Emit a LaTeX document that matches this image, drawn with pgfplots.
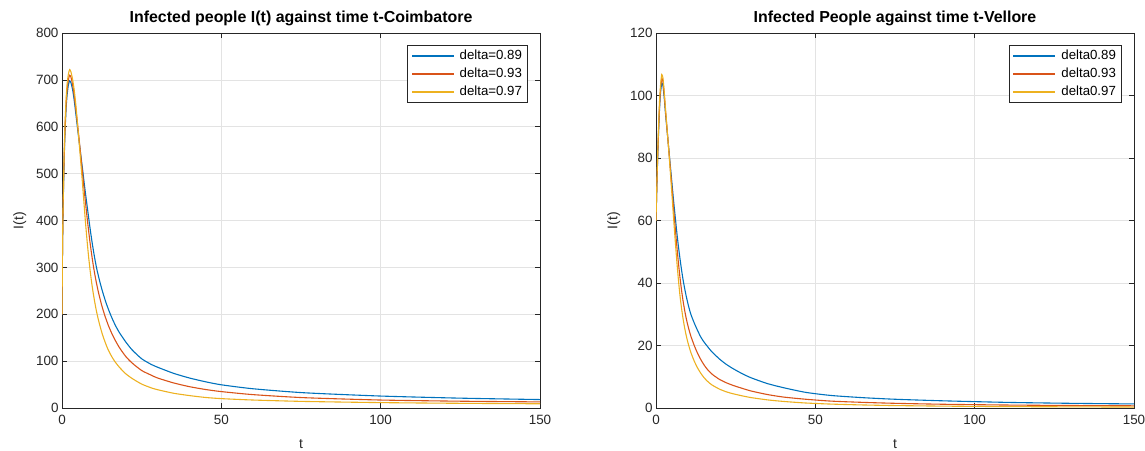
\documentclass[border=0pt]{standalone}
\usepackage{pgfplots}
\pgfplotsset{compat=1.18}
\usepackage{fontspec}
\setmainfont{Liberation Sans}
\definecolor{mblue}{rgb}{0,0.447,0.741}
\definecolor{morange}{rgb}{0.85,0.325,0.098}
\definecolor{myellow}{rgb}{0.929,0.694,0.125}
\definecolor{axgray}{gray}{0.15}
\pgfplotsset{
  mystyle/.style={
    scale only axis, width=478bp, height=375bp,
    xmin=0, xmax=150,
    xtick={0,50,100,150},
    grid=major,
    major grid style={gray!22, line width=0.6pt},
    axis line style={axgray, line width=0.6pt},
    tick style={axgray, line width=0.6pt},
    major tick length=5bp,
    tick align=inside,
    /pgf/number format/assume math mode=true,
    ticklabel style={font=\fontsize{13.5}{15}\selectfont, text=black!85},
    xticklabel style={yshift=-4bp},
    label style={font=\fontsize{14}{16}\selectfont, text=black!85},
    xlabel style={yshift=-8bp},
    ylabel style={yshift=3bp},
    title style={font=\fontsize{16}{18}\selectfont\bfseries, yshift=-2bp},
    legend cell align=left,
    legend style={font=\fontsize{13.3}{15}\selectfont, draw=axgray,
      at={(0.973,0.968)}, anchor=north east, inner sep=3bp, row sep=3bp},
    every axis plot/.append style={line width=1.1pt, smooth, tension=0.4},
    xlabel={t}, ylabel={I(t)},
  },
  swatch/.style={legend image code/.code={\path[draw=none,fill=none] (0bp,0bp) -- (47bp,0bp);\path[draw=none,fill=#1] (1bp,-0.8bp) rectangle (43bp,0.8bp);}},
}
\begin{document}
\begin{tikzpicture}
\useasboundingbox (0,0) rectangle (1145bp,451bp);
\begin{axis}[mystyle, at={(62bp,43bp)}, anchor=south west,
  ymin=0, ymax=800, ytick={0,100,...,800},
  title={Infected people I(t) against time t-Coimbatore}]
\addplot[mblue, swatch=mblue] coordinates {(0,200)(0.15,330)(0.3,405)(0.5,475)(0.75,545)(1,596)(1.3,640)(1.6,668)(2,689)(2.4,698)(2.8,694)(3.3,680)(3.8,658)(4.3,630)(4.8,601)(5.3,573)(5.8,545)(6.2,523)(6.6,501)(7,478)(7.5,451)(8,425)(8.5,399)(9,374)(9.5,351)(10,330)(10.5,311)(11,294)(12,266)(13,242)(14,221)(15,203)(16,187)(17,173)(18,161)(20,141)(22,124)(25,105)(28,93)(30,87)(35,74)(40,64)(45,56)(50,49.5)(60,41)(76,32.5)(100,25.5)(125,21)(150,18)};
\addlegendentry{delta=0.89}
\addplot[morange, swatch=morange] coordinates {(0,200)(0.15,332)(0.3,410)(0.5,482)(0.75,554)(1,605)(1.3,650)(1.6,679)(2,700)(2.4,710)(2.8,706)(3.3,691)(3.8,668)(4.3,640)(4.8,610)(5.3,578)(5.8,544)(6.3,510)(6.8,476)(7.3,443)(7.8,411)(8.3,381)(8.8,353)(9.3,328)(9.8,305)(10.3,285)(10.8,267)(11.5,245)(12.5,218)(13.5,196)(14.5,177)(15.5,161)(16.5,147)(18,129)(20,110)(22,96)(25,80)(28,70)(30,64)(35,53.5)(40,45.5)(45,39.5)(50,35)(60,28.5)(76,22)(100,17)(125,14.5)(150,13)};
\addlegendentry{delta=0.93}
\addplot[myellow, swatch=myellow] coordinates {(0,200)(0.15,335)(0.3,415)(0.5,488)(0.75,562)(1,615)(1.3,661)(1.6,691)(2,712)(2.4,722)(2.8,717)(3.3,702)(3.8,680)(4.3,650)(4.8,612)(5.3,573)(5.8,532)(6.3,490)(6.8,446)(7.3,402)(7.8,362)(8.3,326)(8.8,295)(9.3,268)(9.8,245)(10.3,225)(10.8,207)(11.5,186)(12.5,161)(13.5,141)(14.5,124)(15.5,111)(16.5,100)(18,87)(20,73)(22,63)(25,51)(28,43)(30,39)(35,31.5)(40,26.5)(45,22.5)(50,20)(60,17)(76,14)(100,11.5)(125,10)(150,9)};
\addlegendentry{delta=0.97}
\end{axis}
\begin{axis}[mystyle, at={(656bp,43bp)}, anchor=south west,
  ymin=0, ymax=120, ytick={0,20,...,120},
  title={Infected People against time t-Vellore}]
\addplot[mblue, swatch=mblue] coordinates {(0,60)(0.1,64)(0.3,72)(0.5,79)(0.8,88)(1.1,95.5)(1.4,100.5)(1.8,104)(2.2,103)(2.6,99)(3,94)(3.5,88.5)(4,83)(4.5,77.5)(5,72)(5.5,66.5)(6,61.5)(6.5,56.5)(7,52)(7.5,48)(8,44.3)(8.5,41)(9,38.2)(9.5,35.7)(10,33.5)(10.5,31.5)(11,29.8)(12,27.2)(13,24.9)(14,22.8)(15,21.2)(16,19.9)(17,18.6)(18,17.5)(20,15.6)(22,14)(24,12.7)(27,11)(30,9.6)(35,7.8)(40,6.5)(47,5)(55,4)(65,3.3)(75,2.8)(90,2.3)(110,1.8)(130,1.5)(150,1.3)};
\addlegendentry{delta0.89}
\addplot[morange, swatch=morange] coordinates {(0,60)(0.1,64.2)(0.3,72.5)(0.5,79.7)(0.8,88.8)(1.1,96.5)(1.4,101.8)(1.8,105.5)(2.2,104.3)(2.6,100)(3,94.8)(3.5,88.8)(4,82.8)(4.5,76.6)(5,70.3)(5.5,64)(6,58)(6.5,52.2)(7,46.8)(7.5,42)(8,37.8)(8.5,34.2)(9,31.2)(9.5,28.6)(10,26.4)(10.5,24.5)(11,22.8)(12,20)(13,17.6)(14,15.6)(15,13.9)(16,12.5)(17,11.4)(18,10.5)(20,9.1)(22,8.1)(24,7.3)(27,6.3)(30,5.4)(35,4.3)(40,3.5)(47,2.8)(55,2.2)(65,1.8)(75,1.5)(90,1.2)(110,0.95)(130,0.8)(150,0.7)};
\addlegendentry{delta0.93}
\addplot[myellow, swatch=myellow] coordinates {(0,60)(0.1,64.5)(0.3,73)(0.5,80.5)(0.8,90)(1.1,98)(1.4,103)(1.8,106.7)(2.2,105.5)(2.6,101)(3,95.5)(3.5,89)(4,82.5)(4.5,75.5)(5,68.3)(5.5,61)(6,54)(6.5,47.4)(7,41.4)(7.5,36.2)(8,32)(8.5,28.5)(9,25.6)(9.5,23.1)(10,21)(10.5,19.2)(11,17.6)(12,15)(13,12.9)(14,11.2)(15,9.8)(16,8.7)(17,7.8)(18,7.1)(20,6)(22,5.2)(24,4.6)(27,3.9)(30,3.3)(35,2.6)(40,2.1)(47,1.6)(55,1.25)(65,0.97)(75,0.78)(90,0.6)(110,0.45)(130,0.37)(150,0.3)};
\addlegendentry{delta0.97}
\end{axis}
\end{tikzpicture}
\end{document}
